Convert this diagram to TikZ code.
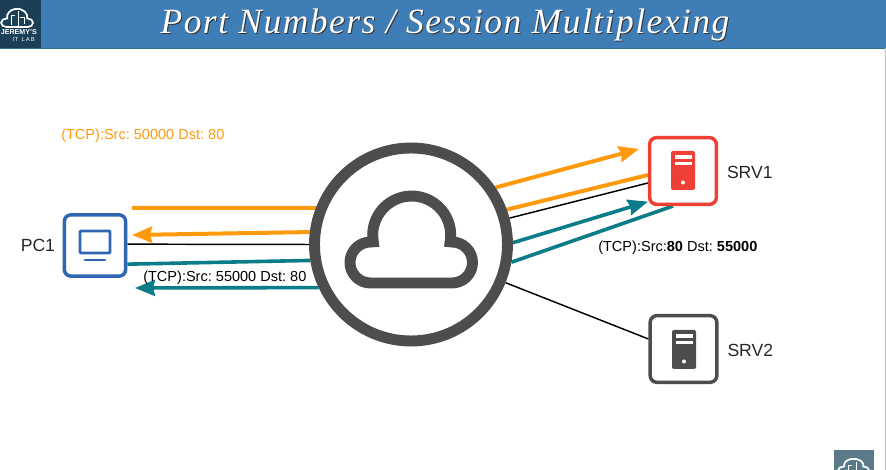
\documentclass[tikz,border=0pt]{standalone}
\usepackage{fontspec}
\setmainfont{Liberation Sans}
\newfontfamily\titlefont[LetterSpace=4.2]{Liberation Serif}
\usepackage{xcolor}
\usetikzlibrary{arrows.meta, positioning, calc, backgrounds}
\definecolor{portorange}{HTML}{FF9A0D}
\definecolor{portteal}{HTML}{0B7D88}
\definecolor{portblue}{HTML}{2F66B3}
\definecolor{portred}{HTML}{EE4035}
\definecolor{portink}{HTML}{4D4D4D}
\definecolor{headblue}{HTML}{3F7DB6}
\definecolor{headedge}{HTML}{2C7488}
\definecolor{logodark}{HTML}{1C3F58}
\definecolor{logogray}{HTML}{5A7A8A}
\newcommand{\srvicon}[3]{%
  \fill[#3, rounded corners=1.5pt] (#1-12,#2-19.5) rectangle (#1+12,#2+19.5);
  \fill[white] (#1-8.5,#2+11.5) rectangle (#1+8.5,#2+15);
  \fill[white] (#1-8.5,#2+5) rectangle (#1+8.5,#2+8.5);
  \fill[white] (#1,#2-12) circle (2);
}
\frenchspacing
\begin{document}
\begin{tikzpicture}[
  x=0.75pt, y=0.75pt,
  devbox/.style={
    draw=#1,
    fill=white,
    line width=2.6pt,
    rounded corners=5pt,
    minimum size=50pt,
    inner sep=0pt
  },
  devlabel/.style={font=\fontsize{13.2pt}{15pt}\selectfont, text=black!85, inner sep=0pt},
  tcplabel/.style={font=\fontsize{10.9pt}{13pt}\selectfont, inner sep=0pt},
  orangeline/.style={draw=portorange, line width=3pt},
  tealline/.style={draw=portteal, line width=2.7pt},
  blackline/.style={draw=black, line width=1.1pt},
  flowtip/.style={-{Stealth[length=15pt, width=12pt, inset=1.5pt]}},
  cloudicon/.pic={
    \draw[pic actions] (-40.5,-38.5) arc (-90:-270:20.5) -- (-37.7,2.7)
      arc (190:-10:39) -- (41,2.5) arc (90:-90:20.5) -- cycle;
  }
]
\useasboundingbox (0,0) rectangle (886,470);

% header
\node[fill=headblue, draw=none, minimum width=664.5pt, minimum height=36pt, inner sep=0pt, anchor=north west] (header) at (0,470) {};
\draw[headedge, line width=1pt] (header.south west) -- (header.south east);
\node[fill=logodark, minimum width=30.75pt, minimum height=36pt, inner sep=0pt, anchor=north west] (logo) at (0,470) {};
\pic[draw=white, line width=1.3pt, xscale=0.26, yscale=0.21] at (17,451) {cloudicon};
\draw[white, line width=0.6pt] (11,445) -- (11,455) -- (15,455) (18,443) -- (18,459) (24,446) -- (24,453) -- (20,453);
\node[anchor=east, font=\bfseries\fontsize{5.3pt}{7pt}\selectfont, text=white, inner sep=0pt] (logoname) at (37,438) {JEREMY'S};
\node[anchor=east, font=\fontsize{4.4pt}{6pt}\selectfont, text=white, inner sep=0pt] (logolab) at (35,431) {IT\,\, L\,A\,B};
\node[font=\titlefont\itshape\fontsize{26.6pt}{30pt}\selectfont, text=black!80, inner sep=0pt] (titleshadow) at (446,444) {Port Numbers / Session Multiplexing};
\node[font=\titlefont\itshape\fontsize{26.6pt}{30pt}\selectfont, text=white, inner sep=0pt] (titletext) at (445,445) {Port Numbers / Session Multiplexing};

% devices
\node[devbox=portblue, minimum size=46pt] (pc1) at (95,224.5) {};
\node[devbox=portred] (srv1) at (683,299) {};
\node[devbox=portink] (srv2) at (683.5,121) {};
\node[circle, draw=portink, fill=white, line width=8.2pt, minimum size=144.75pt, inner sep=0pt] (cloudnet) at (411,225.5) {};
\pic[draw=portink, line width=8.2pt] at (411,225.5) {cloudicon};

% device icons
\draw[portblue, line width=2.2pt, rounded corners=0.8pt] (80,217) rectangle (110,239);
\draw[portblue, line width=2.2pt, line cap=round] (85,210) -- (105,210);
\srvicon{683}{299.5}{portred}
\srvicon{684}{120.5}{portink}

\node[devlabel, left=5.5pt of pc1] (pc1text) {PC1};
\node[devlabel, right=6.5pt of srv1, yshift=-1.4pt] (srv1text) {SRV1};
\node[devlabel, right=6.5pt of srv2, yshift=-1.4pt] (srv2text) {SRV2};

% free ends of the flows
\coordinate (pcin) at (132,262);
\coordinate (pcout) at (132,235);
\coordinate (pcteal) at (135,182);
\coordinate (srvin) at (639,321);

\begin{scope}[on background layer]
\draw[orangeline] (pcin) -- (cloudnet.159);
\draw[orangeline, flowtip] (cloudnet.173) -- (pcout);
\draw[blackline] ([yshift=1pt]pc1.east) -- (cloudnet.180);
\draw[tealline] ([yshift=-14pt]pc1.east) -- (cloudnet.189);
\draw[tealline, flowtip] (cloudnet.205) -- (pcteal);
\draw[orangeline, flowtip] (cloudnet.34) -- (srvin);
\draw[orangeline] (cloudnet.20) -- ([yshift=-3pt]srv1.west);
\draw[blackline] (cloudnet.15) -- ([yshift=-9pt]srv1.west);
\draw[tealline, flowtip] (cloudnet.1) -- ([yshift=-23pt]srv1.west);
\draw[tealline] (cloudnet.-10) -- ([xshift=-7.5pt]srv1.south);
\draw[blackline] (cloudnet.-22) -- ([yshift=7.5pt]srv2.west);
\end{scope}

% labels
\node[tcplabel, text=portorange, anchor=west] (tcporange) at (61,334.5) {(TCP):Src: 50000 Dst: 80};
\node[tcplabel, anchor=west] (tcpteal) at (143,192.5) {(TCP):Src: 55000 Dst: 80};
\node[tcplabel, anchor=west] (tcpsrv) at (598,222.5) {(TCP):Src:\textbf{80} Dst: \textbf{55000}};

% corner logo and right edge
\node[fill=logogray, minimum width=30pt, minimum height=15pt, inner sep=0pt, anchor=south west] (cornerlogo) at (834,0) {};
\begin{scope}
\clip (834,0) rectangle (874,20);
\pic[draw=white, line width=1.3pt, xscale=0.25, yscale=0.17] at (853.5,3) {cloudicon};
\draw[white, line width=0.6pt] (848,0) -- (848,5) -- (852,5) (856,0) -- (856,8);
\end{scope}
\draw[black!25, line width=0.6pt] (885.5,422) -- (885.5,0);
\end{tikzpicture}
\end{document}
